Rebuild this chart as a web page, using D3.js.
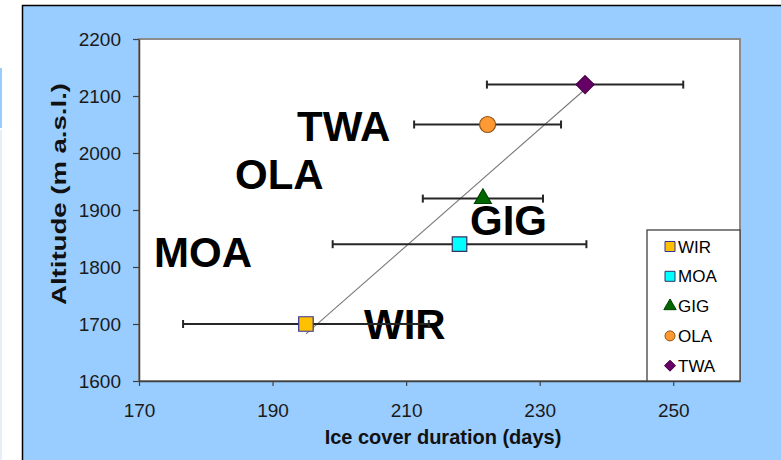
<!DOCTYPE html>
<html>
<head>
<meta charset="utf-8">
<script src="https://cdn.jsdelivr.net/npm/d3@7"></script>
<style>
  html, body { margin: 0; padding: 0; background: #ffffff; }
  svg { display: block; font-family: "Liberation Sans", Arial, sans-serif; }
</style>
</head>
<body>
<svg id="chart" width="781" height="460"></svg>
<script>
// lake sites, ice cover duration (days, mean +/- sd) and altitude
const sites = ["WIR", "MOA", "GIG", "OLA", "TWA"];
const iceDays = [195, 218, 221.5, 222.2, 236.8];
const iceErr = [18.4, 19, 9, 11, 14.7];
const altitude = [1700, 1840, 1920, 2050, 2120];

const xTicks = [170, 190, 210, 230, 250];
const yTicks = [1600, 1700, 1800, 1900, 2000, 2100, 2200];

const markerStyle = {
  WIR: { shape: "square", fill: "#ffc000", stroke: "#333399" },
  MOA: { shape: "square", fill: "#00ffff", stroke: "#333366" },
  GIG: { shape: "triangle", fill: "#006600", stroke: "#004400" },
  OLA: { shape: "circle", fill: "#ff9933", stroke: "#8a5515" },
  TWA: { shape: "diamond", fill: "#660066", stroke: "#440044" }
};

// big site labels placed in the plot (pixel layout)
const bigLabels = {
  TWA: [297, 141],
  OLA: [235, 189],
  GIG: [470, 235],
  MOA: [154, 267],
  WIR: [364, 339]
};

const svg = d3.select("#chart");
const margin = { left: 139, right: 740, top: 39, bottom: 381 };

const x = d3.scaleLinear().domain([170, 260]).range([margin.left, margin.right]);
const y = d3.scaleLinear().domain([1600, 2200]).range([margin.bottom, margin.top]);

// page background leftovers on the far left
svg.append("rect").attr("x", 0).attr("y", 68).attr("width", 2).attr("height", 60).attr("fill", "#99ccff");
svg.append("rect").attr("x", 0).attr("y", 130).attr("width", 2).attr("height", 330).attr("fill", "#e6eefa");

// blue chart panel
svg.append("rect")
  .attr("x", 22.5).attr("y", 5.5)
  .attr("width", 800).attr("height", 500)
  .attr("fill", "#99ccff")
  .attr("stroke", "#000")
  .attr("stroke-width", 1.5);

// plot area
svg.append("rect")
  .attr("x", margin.left).attr("y", margin.top)
  .attr("width", margin.right - margin.left)
  .attr("height", margin.bottom - margin.top)
  .attr("fill", "#ffffff")
  .attr("stroke", "#8c8c8c")
  .attr("stroke-width", 2);

const styleAxis = (g) => {
  g.select(".domain").attr("stroke", "#404040").attr("stroke-width", 1.5);
  g.selectAll(".tick line").attr("stroke", "#404040").attr("stroke-width", 1.2);
  g.selectAll(".tick text")
    .attr("fill", "#1a1a1a")
    .attr("font-size", 19)
    .attr("font-family", "Liberation Sans, Arial, sans-serif");
};

svg.append("g")
  .attr("transform", `translate(0,${margin.bottom})`)
  .call(d3.axisBottom(x).tickValues(xTicks).tickSize(5).tickSizeOuter(0).tickPadding(17.5).tickFormat(d3.format("d")))
  .call(styleAxis);

svg.append("g")
  .attr("transform", `translate(${margin.left},0)`)
  .call(d3.axisLeft(y).tickValues(yTicks).tickSize(6).tickSizeOuter(0).tickPadding(12).tickFormat(d3.format("d")))
  .call(styleAxis);

// axis titles
svg.append("text")
  .attr("x", 443).attr("y", 444)
  .attr("text-anchor", "middle")
  .attr("font-size", 20).attr("font-weight", "bold")
  .attr("fill", "#111")
  .text("Ice cover duration (days)");

svg.append("text")
  .attr("transform", "translate(66,194) rotate(-90)")
  .attr("text-anchor", "middle")
  .attr("font-size", 20).attr("font-weight", "bold")
  .attr("fill", "#111")
  .attr("textLength", 222).attr("lengthAdjust", "spacingAndGlyphs")
  .text("Altitude (m a.s.l.)");

// big labels
const labelGroup = svg.append("g")
  .attr("font-size", 42).attr("font-weight", "bold").attr("fill", "#000");
sites.forEach((s) => {
  labelGroup.append("text")
    .attr("x", bigLabels[s][0]).attr("y", bigLabels[s][1])
    .text(s);
});

// linear trend line (least squares), drawn across the data range
const mx = d3.mean(iceDays), my = d3.mean(altitude);
const sxy = d3.sum(iceDays, (d, i) => (d - mx) * (altitude[i] - my));
const sxx = d3.sum(iceDays, (d) => (d - mx) * (d - mx));
const slope = sxy / sxx;
const x0 = d3.min(iceDays), x1 = d3.max(iceDays);
svg.append("line")
  .attr("x1", x(x0)).attr("y1", y(my + slope * (x0 - mx)))
  .attr("x2", x(x1)).attr("y2", y(my + slope * (x1 - mx)))
  .attr("stroke", "#7a7a7a")
  .attr("stroke-width", 1.1);

// error bars
const errGroup = svg.append("g").attr("stroke", "#262626").attr("stroke-width", 2);
sites.forEach((s, i) => {
  const yy = y(altitude[i]);
  const xl = x(iceDays[i] - iceErr[i]);
  const xr = x(iceDays[i] + iceErr[i]);
  errGroup.append("line").attr("x1", xl).attr("x2", xr).attr("y1", yy).attr("y2", yy);
  errGroup.append("line").attr("x1", xl).attr("x2", xl).attr("y1", yy - 4).attr("y2", yy + 4);
  errGroup.append("line").attr("x1", xr).attr("x2", xr).attr("y1", yy - 4).attr("y2", yy + 4);
});

const symbolPath = (shape, size) => {
  if (shape === "square") return d3.symbol(d3.symbolSquare, size * size)();
  if (shape === "circle") return d3.symbol(d3.symbolCircle, Math.PI * (size / 2) * (size / 2))();
  if (shape === "triangle") return d3.symbol(d3.symbolTriangle, size * size * 0.55)();
  const h = size / 2;
  return `M0,${-h}L${h},0L0,${h}L${-h},0Z`;
};

const markerSize = { square: 14.5, circle: 16, triangle: 15, diamond: 18 };

sites.forEach((s, i) => {
  const st = markerStyle[s];
  svg.append("path")
    .attr("d", symbolPath(st.shape, markerSize[st.shape]))
    .attr("transform", `translate(${x(iceDays[i])},${y(altitude[i])})`)
    .attr("fill", st.fill)
    .attr("stroke", st.stroke)
    .attr("stroke-width", 1.2);
});

// legend
const legend = svg.append("g");
legend.append("rect")
  .attr("x", 647).attr("y", 230)
  .attr("width", 93).attr("height", 151)
  .attr("fill", "#ffffff")
  .attr("stroke", "#404040")
  .attr("stroke-width", 1.3);

const legendSize = { square: 10, circle: 10, triangle: 11, diamond: 11 };
sites.forEach((s, i) => {
  const st = markerStyle[s];
  const cy = 246.5 + i * 29.8;
  legend.append("path")
    .attr("d", symbolPath(st.shape, legendSize[st.shape]))
    .attr("transform", `translate(670,${cy})`)
    .attr("fill", st.fill)
    .attr("stroke", st.stroke)
    .attr("stroke-width", 1);
  legend.append("text")
    .attr("x", 678).attr("y", cy + 6)
    .attr("font-size", 17)
    .attr("fill", "#000")
    .text(s);
});
</script>
</body>
</html>
